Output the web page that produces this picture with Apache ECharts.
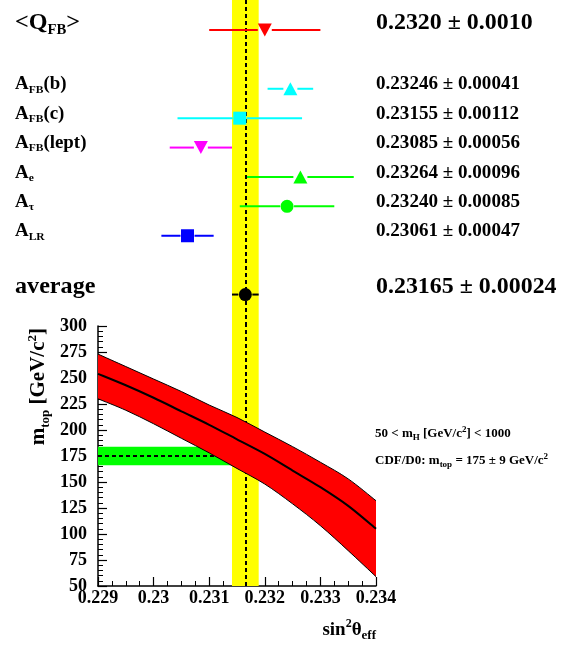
<!DOCTYPE html>
<html>
<head>
<meta charset="utf-8">
<script src="https://cdn.jsdelivr.net/npm/echarts@6/dist/echarts.min.js"></script>
<style>
  html, body { margin: 0; padding: 0; background: #fff; }
  #chart { width: 569px; height: 652px; }
</style>
</head>
<body>
<div id="chart"></div>
<script>
const FONT = 'Liberation Serif'

// measurements of sin^2 theta_eff
const measNames = ['<Q{s|FB}>', 'A{s|FB}(b)', 'A{s|FB}(c)', 'A{s|FB}(lept)', 'A{s|e}', 'A{s|τ}', 'A{s|LR}', 'average']
const measValues = [0.2320, 0.23246, 0.23155, 0.23085, 0.23264, 0.23240, 0.23061, 0.23165]
const measErrors = [0.0010, 0.00041, 0.00112, 0.00056, 0.00096, 0.00085, 0.00047, 0.00024]
const measDigits = [4, 5, 5, 5, 5, 5, 5, 5]
const measRows = [0, 2, 3, 4, 5, 6, 7, 9]
const measBig = [true, false, false, false, false, false, false, true]
const measColors = ['#ff0000', '#00ffff', '#00ffff', '#ff00ff', '#00ff00', '#00ff00', '#0000ff', '#000000']
const measSymbols = ['triangle', 'triangle', 'rect', 'triangle', 'triangle', 'circle', 'rect', 'circle']
const measRotate = [180, 0, 0, 180, 0, 0, 0, 0]
const avgIndex = 7

// axes
const xMin = 0.229, xMax = 0.234, xStep = 0.001
const yMin = 50, yMax = 300, yStep = 25
const rowMin = -1.02, rowMax = 10.07

// SM prediction band m_top vs sin^2 theta_eff
const bandX = [0.229, 0.2295, 0.230, 0.2305, 0.231, 0.2315, 0.232, 0.2325, 0.233, 0.2335, 0.234]
const bandUpper = [273, 261, 249, 237, 224, 212, 198, 184, 169, 153, 132]
const bandCentre = [254, 243, 231, 218, 205, 191, 177, 161, 145, 127, 105]
const bandLower = [230, 219, 206, 192, 178, 163, 148, 129, 108, 84, 59]

// direct m_top measurement
const mtop = 175, mtopErr = 9
const mhRange = [50, 1000]

const avgVal = measValues[avgIndex]
const avgErr = measErrors[avgIndex]

const chart = echarts.init(document.getElementById('chart'))

const subStyle = (size, h) => ({ fontSize: size, lineHeight: h, fontFamily: FONT, fontWeight: 'bold', verticalAlign: 'bottom' })
const supStyle = (size, h) => ({ fontSize: size, lineHeight: h, fontFamily: FONT, fontWeight: 'bold', verticalAlign: 'top' })

function renderMeas (params, api) {
  const i = params.dataIndex
  const v = api.value(0), row = api.value(1), err = api.value(2)
  const c = api.coord([v, row])
  const lo = api.coord([v - err, row])
  const hi = api.coord([v + err, row])
  const gap = 7
  const big = measBig[i]
  const size = big ? 23 : 18
  const color = measColors[i]
  const ty = c[1] - (big ? 7 : 4)
  const d = measDigits[i]
  return {
    type: 'group',
    children: [
      { type: 'line', shape: { x1: lo[0], y1: lo[1], x2: c[0] - gap, y2: c[1] }, style: { stroke: color, lineWidth: 2 } },
      { type: 'line', shape: { x1: c[0] + gap, y1: c[1], x2: hi[0], y2: c[1] }, style: { stroke: color, lineWidth: 2 } },
      {
        type: 'text', x: 15, y: ty, scaleX: 1.05,
        style: {
          text: measNames[i], fill: '#000', fontFamily: FONT, fontWeight: 'bold', fontSize: size,
          lineHeight: big ? 28 : 21, verticalAlign: 'middle', align: 'left',
          rich: { s: subStyle(big ? 14 : 11, big ? 14 : 11) }
        }
      },
      {
        type: 'text', x: 376, y: ty, scaleX: big ? 1.04 : 1.06,
        style: {
          text: v.toFixed(d) + ' ± ' + err.toFixed(d), fill: '#000', fontFamily: FONT, fontWeight: 'bold',
          fontSize: size, verticalAlign: 'middle', align: 'left'
        }
      }
    ]
  }
}

// smooth path (catmull-rom -> bezier) through pixel points
function curvePath (pts, start) {
  let d = start ? 'M' + pts[0][0] + ' ' + pts[0][1] : 'L' + pts[0][0] + ' ' + pts[0][1]
  const n = pts.length
  for (let i = 0; i < n - 1; i++) {
    const p0 = pts[Math.max(i - 1, 0)], p1 = pts[i], p2 = pts[i + 1], p3 = pts[Math.min(i + 2, n - 1)]
    const c1 = [p1[0] + (p2[0] - p0[0]) / 6, p1[1] + (p2[1] - p0[1]) / 6]
    const c2 = [p2[0] - (p3[0] - p1[0]) / 6, p2[1] - (p3[1] - p1[1]) / 6]
    d += ' C' + c1[0] + ' ' + c1[1] + ' ' + c2[0] + ' ' + c2[1] + ' ' + p2[0] + ' ' + p2[1]
  }
  return d
}

function renderBand (params, api) {
  const up = bandX.map((x, i) => api.coord([x, bandUpper[i]]))
  const low = bandX.map((x, i) => api.coord([x, bandLower[i]]))
  const mid = bandX.map((x, i) => api.coord([x, bandCentre[i]]))
  const fillPath = curvePath(up, true) + ' ' + curvePath(low.slice().reverse(), false) + ' Z'
  return {
    type: 'group',
    children: [
      { type: 'path', shape: { pathData: fillPath }, style: { fill: '#ff0000', stroke: null } },
      { type: 'path', shape: { pathData: curvePath(up, true) }, style: { fill: null, stroke: '#000', lineWidth: 1 } },
      { type: 'path', shape: { pathData: curvePath(low, true) }, style: { fill: null, stroke: '#000', lineWidth: 1 } },
      { type: 'path', shape: { pathData: curvePath(mid, true) }, style: { fill: null, stroke: '#000', lineWidth: 2 } }
    ]
  }
}

const axisFont = { color: '#000', fontFamily: FONT, fontWeight: 'bold', fontSize: 18 }
const dashed = { color: '#000', type: [4, 3], width: 2 }

const option = {
  animation: false,
  grid: [
    { left: 98, width: 278, top: 0, height: 326 },
    { left: 98, width: 278, top: 326, height: 260 }
  ],
  xAxis: [
    { gridIndex: 0, type: 'value', min: xMin, max: xMax, show: false },
    {
      gridIndex: 1, type: 'value', min: xMin, max: xMax, interval: xStep,
      axisLine: { lineStyle: { color: '#000', width: 1.5 } },
      axisTick: { inside: true, length: 9, lineStyle: { color: '#000', width: 1.2 } },
      minorTick: { show: true, splitNumber: 4, length: 5, lineStyle: { color: '#000', width: 1 } },
      splitLine: { show: false },
      axisLabel: Object.assign({ margin: 3, formatter: v => String(+v.toFixed(4)) }, axisFont)
    }
  ],
  yAxis: [
    { gridIndex: 0, type: 'value', min: rowMin, max: rowMax, inverse: true, show: false },
    {
      gridIndex: 1, type: 'value', min: yMin, max: yMax, interval: yStep,
      axisLine: { show: true, lineStyle: { color: '#000', width: 1.5 } },
      axisTick: { show: true, inside: true, length: 9, lineStyle: { color: '#000', width: 1.2 } },
      minorTick: { show: true, splitNumber: 5, length: 5, lineStyle: { color: '#000', width: 1 } },
      splitLine: { show: false },
      axisLabel: Object.assign({ margin: 11 }, axisFont)
    }
  ],
  graphic: [
    {
      type: 'text', x: 39, y: 328, rotation: Math.PI / 2,
      style: {
        text: 'm{s|top} [GeV/c{p|2}]', fill: '#000', fontFamily: FONT, fontWeight: 'bold', fontSize: 21,
        lineHeight: 26, align: 'right', verticalAlign: 'middle',
        rich: { s: subStyle(13, 13), p: supStyle(13, 13) }
      }
    },
    {
      type: 'text', x: 376, y: 630,
      style: {
        text: 'sin{p|2}θ{s|eff}', fill: '#000', fontFamily: FONT, fontWeight: 'bold', fontSize: 19,
        lineHeight: 24, align: 'right', verticalAlign: 'middle',
        rich: { s: subStyle(13, 13), p: supStyle(12, 12) }
      }
    },
    {
      type: 'text', x: 375, y: 434,
      style: {
        text: mhRange[0] + ' < m{s|H} [GeV/c{p|2}] < ' + mhRange[1], fill: '#000', fontFamily: FONT, fontWeight: 'bold',
        fontSize: 13, lineHeight: 17, align: 'left', verticalAlign: 'middle',
        rich: { s: subStyle(9, 9), p: supStyle(9, 9) }
      }
    },
    {
      type: 'text', x: 375, y: 461,
      style: {
        text: 'CDF/D0: m{s|top} = ' + mtop + ' ± ' + mtopErr + ' GeV/c{p|2}', fill: '#000', fontFamily: FONT, fontWeight: 'bold',
        fontSize: 13, lineHeight: 17, align: 'left', verticalAlign: 'middle',
        rich: { s: subStyle(9, 9), p: supStyle(9, 9) }
      }
    }
  ],
  series: [
    // top: yellow average band + dashed line
    {
      type: 'line', xAxisIndex: 0, yAxisIndex: 0, data: [], z: 1,
      markArea: { silent: true, z: 1, itemStyle: { color: '#ffff00' }, data: [[{ xAxis: avgVal - avgErr }, { xAxis: avgVal + avgErr }]] },
      markLine: { silent: true, z: 2, symbol: 'none', label: { show: false }, lineStyle: dashed, data: [[{ coord: [avgVal, rowMin] }, { coord: [avgVal, rowMax] }]] }
    },
    {
      type: 'custom', xAxisIndex: 0, yAxisIndex: 0, z: 3, clip: false,
      data: measValues.map((v, i) => [v, measRows[i], measErrors[i]]),
      renderItem: renderMeas
    },
    {
      type: 'scatter', xAxisIndex: 0, yAxisIndex: 0, z: 4,
      data: measValues.map((v, i) => ({
        value: [v, measRows[i]],
        symbol: measSymbols[i],
        symbolRotate: measRotate[i],
        symbolSize: measSymbols[i] === 'triangle' ? [14, 13] : 13,
        itemStyle: { color: measColors[i], opacity: 1 }
      }))
    },
    // bottom: yellow band + dashed line
    {
      type: 'line', xAxisIndex: 1, yAxisIndex: 1, data: [], z: 1,
      markArea: { silent: true, z: 1, itemStyle: { color: '#ffff00' }, data: [[{ xAxis: avgVal - avgErr }, { xAxis: avgVal + avgErr }]] },
      markLine: { silent: true, z: 1, symbol: 'none', label: { show: false }, lineStyle: dashed, data: [[{ coord: [avgVal, yMin] }, { coord: [avgVal, yMax] }]] }
    },
    // direct m_top band
    {
      type: 'line', xAxisIndex: 1, yAxisIndex: 1, data: [], z: 2,
      markArea: { silent: true, z: 2, itemStyle: { color: '#00ff00' }, data: [[{ coord: [xMin, mtop - mtopErr] }, { coord: [avgVal - avgErr, mtop + mtopErr] }]] },
      markLine: { silent: true, z: 2, symbol: 'none', label: { show: false }, lineStyle: dashed, data: [[{ coord: [xMin, mtop] }, { coord: [avgVal - avgErr, mtop] }]] }
    },
    // SM band with central line
    {
      type: 'custom', xAxisIndex: 1, yAxisIndex: 1, z: 3,
      data: [[bandX[0], bandCentre[0]]],
      renderItem: renderBand
    }
  ]
}

chart.setOption(option)
</script>
</body>
</html>
